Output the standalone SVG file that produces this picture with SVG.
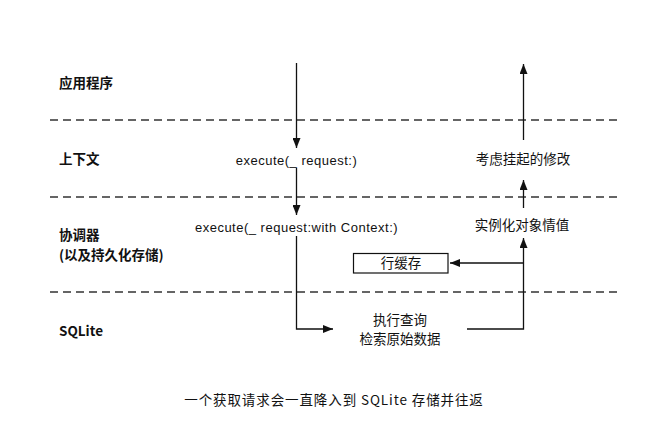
<svg xmlns="http://www.w3.org/2000/svg" width="649" height="433" viewBox="0 0 649 433">
<style>
.lbl{font-family:"Noto Sans CJK SC","Liberation Sans",sans-serif;font-size:13.5px;font-weight:bold;fill:#111}
.t{font-family:"Liberation Sans","Noto Sans CJK SC",sans-serif;font-size:13px;letter-spacing:0.5px;fill:#111}
.c{font-family:"Noto Sans CJK SC","Liberation Sans",sans-serif;font-size:13.5px;fill:#111}
.dash{stroke:#333;stroke-width:1.5;stroke-dasharray:8 5;fill:none}
.ln{stroke:#111;stroke-width:1.3;fill:none}
</style>
<defs>
<marker id="ah" viewBox="0 0 10 8" refX="10" refY="4" markerWidth="10" markerHeight="8" markerUnits="userSpaceOnUse" orient="auto">
<path d="M0,0 L10,4 L0,8 Z" fill="#111"/>
</marker>
</defs>
<rect width="649" height="433" fill="#fff"/>
<g id="lanes">
<line class="dash" x1="50" y1="120" x2="620" y2="120"/>
<line class="dash" x1="50" y1="197" x2="620" y2="197"/>
<line class="dash" x1="50" y1="292" x2="620" y2="292"/>
</g>
<g id="lane-labels">
<text class="lbl" x="59" y="88">应用程序</text>
<text class="lbl" x="59" y="164">上下文</text>
<text class="lbl" x="59" y="240">协调器</text>
<text class="lbl" x="59" y="260">(以及持久化存储)</text>
<text class="lbl" x="59" y="336" font-family="Liberation Sans,sans-serif">SQLite</text>
</g>
<g id="connectors">
<line class="ln" x1="296.5" y1="63" x2="296.5" y2="148" marker-end="url(#ah)"/>
<line class="ln" x1="296.5" y1="168" x2="296.5" y2="215" marker-end="url(#ah)"/>
<polyline class="ln" points="296.5,236 296.5,329 333,329" marker-end="url(#ah)"/>
<polyline class="ln" points="467,329 523.5,329 523.5,238" marker-end="url(#ah)"/>
<line class="ln" x1="523.5" y1="263" x2="450" y2="263" marker-end="url(#ah)"/>
<line class="ln" x1="523.5" y1="208" x2="523.5" y2="180" marker-end="url(#ah)"/>
<line class="ln" x1="523.5" y1="140" x2="523.5" y2="64" marker-end="url(#ah)"/>
</g>
<g id="n-execute1"><text class="t" x="296.5" y="164.5" text-anchor="middle">execute(_ request:)</text></g>
<g id="n-execute2"><text class="t" x="296.5" y="231.5" text-anchor="middle">execute(_ request:with Context:)</text></g>
<g id="n-query">
<text class="c" x="400" y="325" text-anchor="middle">执行查询</text>
<text class="c" x="400" y="344" text-anchor="middle">检索原始数据</text>
</g>
<g id="n-rowcache">
<rect x="353.5" y="253.5" width="94.5" height="19.5" fill="#fff" stroke="#111" stroke-width="1.2"/>
<text class="c" x="401" y="267.5" text-anchor="middle" font-size="12">行缓存</text>
</g>
<g id="n-instantiate"><text class="c" x="522" y="230" text-anchor="middle">实例化对象情值</text></g>
<g id="n-pending"><text class="c" x="523" y="164" text-anchor="middle">考虑挂起的修改</text></g>
<g id="caption"><text class="c" x="334" y="405" text-anchor="middle" font-size="14.5" letter-spacing="0.9">一个获取请求会一直降入到 SQLite 存储并往返</text></g>
</svg>
